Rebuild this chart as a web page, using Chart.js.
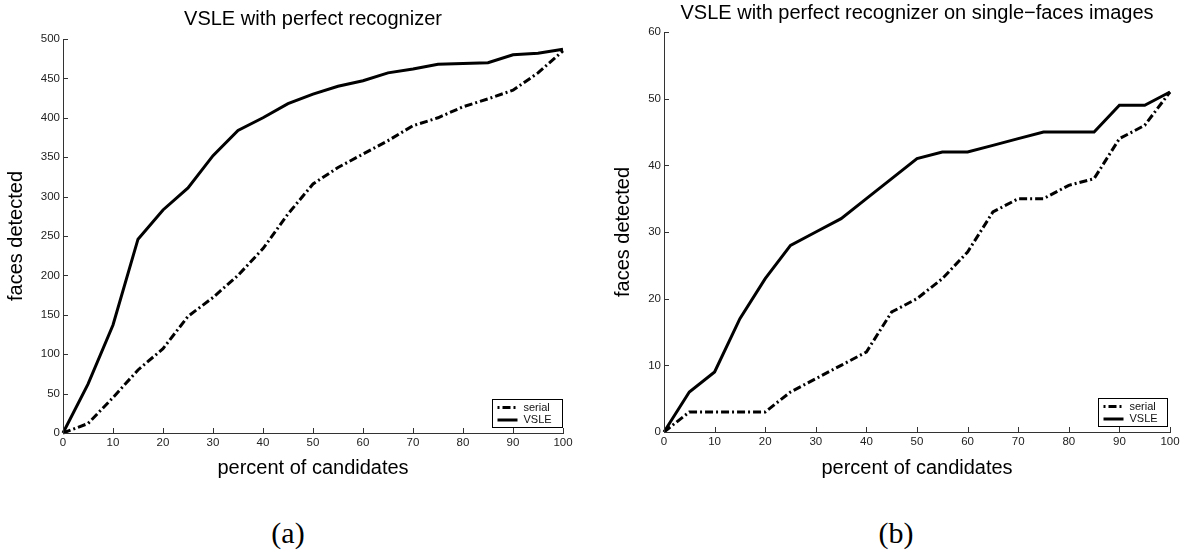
<!DOCTYPE html>
<html>
<head>
<meta charset="utf-8">
<script src="https://cdn.jsdelivr.net/npm/chart.js@4.4.1/dist/chart.umd.min.js"></script>
<style>
  body { margin: 0; background: #fff; width: 1186px; height: 558px; position: relative; overflow: hidden; }
  .box { position: absolute; top: 0; width: 593px; height: 490px; }
  .cap { position: absolute; top: 518px; font-family: "Liberation Serif", "DejaVu Serif", serif; font-size: 30px; transform: translateX(-50%); line-height: 1; }
</style>
</head>
<body>
<div class="box" style="left:0"><canvas id="chartA"></canvas></div>
<div class="box" style="left:593px"><canvas id="chartB"></canvas></div>
<div class="cap" style="left:288px">(a)</div>
<div class="cap" style="left:896px">(b)</div>
<script>
// percent of candidates examined
const pct = [0, 5, 10, 15, 20, 25, 30, 35, 40, 45, 50, 55, 60, 65, 70, 75, 80, 85, 90, 95, 100];

// (a) all images
const serialA = [0, 12, 45, 80, 107, 148, 172, 200, 234, 278, 316, 337, 354, 371, 390, 400, 414, 424, 435, 457, 485];
const vsleA   = [0, 62, 137, 246, 283, 311, 352, 384, 400, 418, 430, 440, 447, 457, 462, 468, 469, 470, 480, 482, 487];

// (b) single-face images
const serialB = [0, 3, 3, 3, 3, 6, 8, 10, 12, 18, 20, 23, 27, 33, 35, 35, 37, 38, 44, 46, 51];
const vsleB   = [0, 6, 9, 17, 23, 28, 30, 32, 35, 38, 41, 42, 42, 43, 44, 45, 45, 45, 49, 49, 51];

const titleA = 'VSLE with perfect recognizer';
const titleB = 'VSLE with perfect recognizer on single\u2212faces images';
const xLabel = 'percent of candidates';
const yLabel = 'faces detected';

const SANS = '"Liberation Sans", Arial, Helvetica, sans-serif';
const AXIS_COLOR = '#333';

const toXY = (ys) => pct.map((x, i) => ({ x: x, y: ys[i] }));

// matlab style ticks pointing into the plot + legend box in the lower right corner
const matlabAxes = {
    id: 'matlabAxes',
    afterDraw(chart, args, opts) {
        const ctx = chart.ctx;
        const area = chart.chartArea;
        const xs = chart.scales.x;
        const ys = chart.scales.y;
        ctx.save();
        ctx.strokeStyle = AXIS_COLOR;
        ctx.lineWidth = 1;
        ctx.beginPath();
        xs.ticks.forEach(t => {
            const px = Math.round(xs.getPixelForValue(t.value)) + 0.5;
            ctx.moveTo(px, area.bottom);
            ctx.lineTo(px, area.bottom - 5);
        });
        ys.ticks.forEach(t => {
            const py = Math.round(ys.getPixelForValue(t.value)) + 0.5;
            ctx.moveTo(area.left, py);
            ctx.lineTo(area.left + 5, py);
        });
        ctx.stroke();

        // legend
        const w = opts.w, h = 28;
        const bx = Math.round(area.right - opts.dr - w) + 0.5;
        const by = Math.round(area.bottom - 6 - h) + 0.5;
        ctx.fillStyle = '#fff';
        ctx.fillRect(bx, by, w, h);
        ctx.strokeStyle = '#000';
        ctx.lineWidth = 1;
        ctx.setLineDash([]);
        ctx.strokeRect(bx, by, w, h);
        ctx.font = '11px ' + SANS;
        ctx.textBaseline = 'middle';
        chart.data.datasets.forEach((ds, i) => {
            const ry = by + 8 + i * 12.5;
            ctx.beginPath();
            ctx.strokeStyle = '#000';
            ctx.lineWidth = ds.borderWidth;
            ctx.setLineDash(ds.borderDash || []);
            ctx.lineDashOffset = ds.borderDash ? 11 : 0;
            ctx.moveTo(bx + 5, ry);
            ctx.lineTo(bx + 25, ry);
            ctx.stroke();
            ctx.setLineDash([]);
            ctx.fillStyle = '#111';
            ctx.fillText(ds.label, bx + 31, ry);
        });
        ctx.restore();
    }
};

function makeChart(id, serial, vsle, title, yMax, yStep, geo) {
    const canvas = document.getElementById(id);
    return new Chart(canvas, {
        type: 'line',
        data: {
            datasets: [
                {
                    label: 'serial',
                    data: toXY(serial),
                    borderColor: '#000',
                    borderWidth: 3,
                    borderDash: [8, 3, 2, 3],
                    pointRadius: 0,
                    tension: 0,
                    fill: false,
                    clip: false
                },
                {
                    label: 'VSLE',
                    data: toXY(vsle),
                    borderColor: '#000',
                    borderWidth: 3,
                    pointRadius: 0,
                    tension: 0,
                    fill: false,
                    clip: false
                }
            ]
        },
        options: {
            responsive: true,
            maintainAspectRatio: false,
            animation: false,
            events: [],
            layout: { padding: { left: 0, right: geo.padRight, top: 0, bottom: 0 } },
            plugins: {
                legend: { display: false },
                tooltip: { enabled: false },
                title: {
                    display: true,
                    text: title,
                    fullSize: false,
                    color: '#000',
                    font: { family: SANS, size: 20, weight: 'normal', lineHeight: 1.2 },
                    padding: { top: geo.titleTop, bottom: geo.titleBottom }
                },
                matlabAxes: { w: geo.legendW, dr: geo.legendDr }
            },
            scales: {
                x: {
                    type: 'linear',
                    min: 0,
                    max: 100,
                    afterFit: (s) => { s.height = geo.xHeight; },
                    ticks: { stepSize: 10, color: '#222', padding: 3, font: { family: SANS, size: 11.5 } },
                    grid: { display: false, drawTicks: false },
                    border: { display: true, color: AXIS_COLOR, width: 1 },
                    title: {
                        display: true,
                        text: xLabel,
                        color: '#000',
                        font: { family: SANS, size: 20, lineHeight: 1.2 },
                        padding: { top: 0, bottom: 10 }
                    }
                },
                y: {
                    min: 0,
                    max: yMax,
                    afterFit: (s) => { s.width = geo.yWidth; },
                    ticks: { stepSize: yStep, color: '#222', padding: 3, font: { family: SANS, size: 11.5 } },
                    grid: { display: false, drawTicks: false },
                    border: { display: true, color: AXIS_COLOR, width: 1 },
                    title: {
                        display: true,
                        text: yLabel,
                        color: '#000',
                        font: { family: SANS, size: 20, lineHeight: 1.2 },
                        padding: { top: geo.yTitlePad, bottom: 0 }
                    }
                }
            }
        },
        plugins: [matlabAxes]
    });
}

makeChart('chartA', serialA, vsleA, titleA, 500, 50, {
    padRight: 30, titleTop: 7, titleBottom: 8, xHeight: 57, yWidth: 63,
    yTitlePad: 4, legendW: 70, legendDr: 1
});
makeChart('chartB', serialB, vsleB, titleB, 60, 10, {
    padRight: 16, titleTop: 1, titleBottom: 7, xHeight: 58, yWidth: 71,
    yTitlePad: 18, legendW: 69, legendDr: 3
});
</script>
</body>
</html>
